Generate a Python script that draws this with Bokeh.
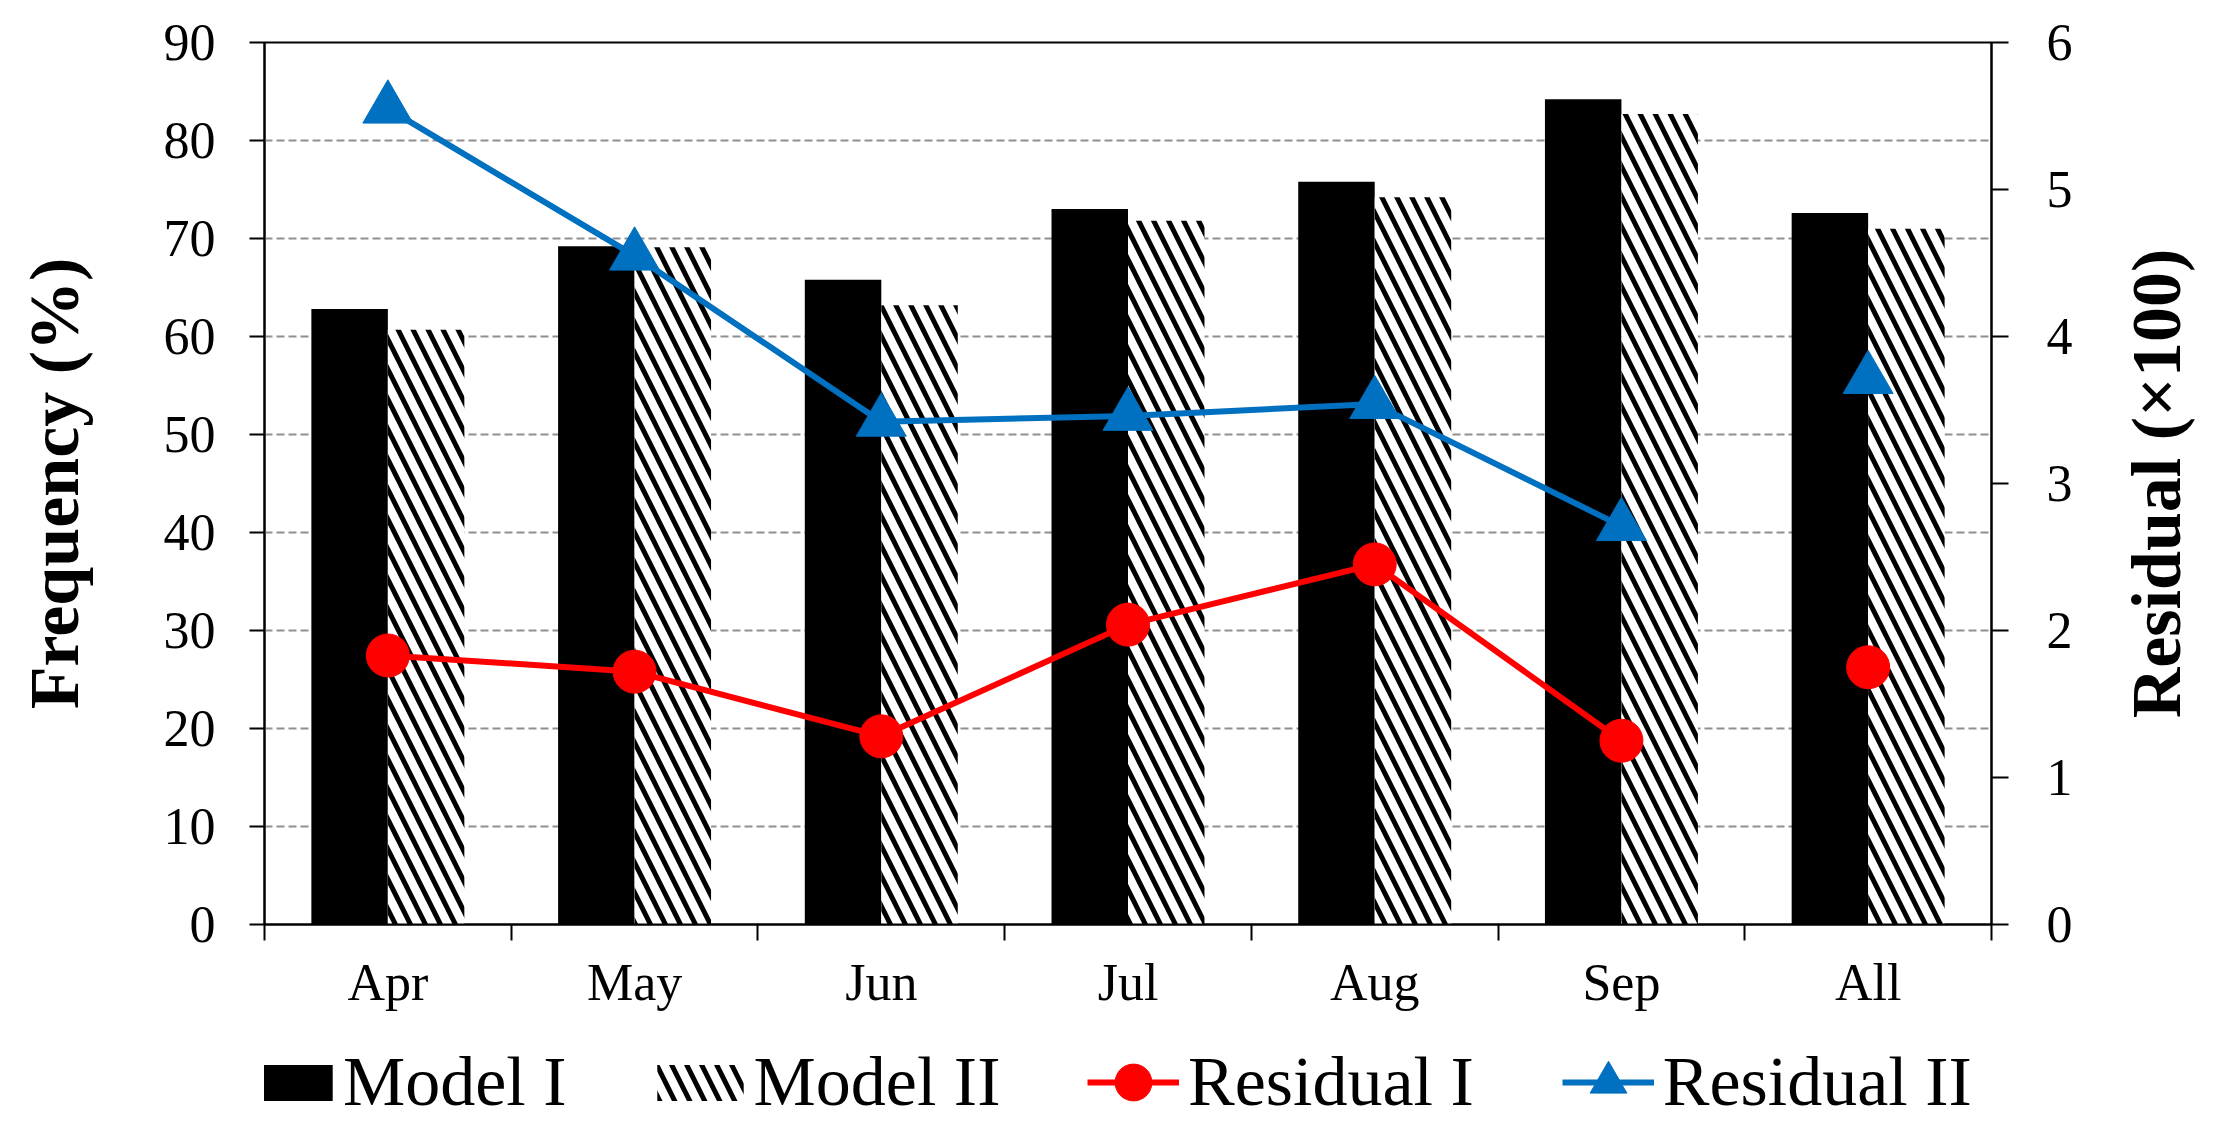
from bokeh.plotting import figure
from bokeh.layouts import column
from bokeh.models import (Range1d, LinearAxis, FixedTicker, Legend, LegendItem,
                          ColumnDataSource, Grid, Label)
from bokeh.transform import dodge
from bokeh.embed import file_html
from bokeh.resources import INLINE

# ---------------- data ----------------
categories = ["Apr", "May", "Jun", "Jul", "Aug", "Sep", "All"]
model_1 = [62.8, 69.2, 65.8, 73.0, 75.8, 84.2, 72.6]        # Frequency (%)
model_2 = [60.7, 69.1, 63.2, 71.8, 74.2, 82.7, 71.0]        # Frequency (%)
residual_1 = [1.83, 1.72, 1.28, 2.04, 2.45, 1.25, 1.75]     # Residual (x100)
residual_2 = [5.55, 4.55, 3.42, 3.46, 3.54, 2.71, 3.71]     # Residual (x100)
freq_ticks = [0, 10, 20, 30, 40, 50, 60, 70, 80, 90]
res_ticks = [0, 1, 2, 3, 4, 5, 6]
series_names = ["Model I", "Model II", "Residual I", "Residual II"]
left_title = "Frequency (%)"
right_title = "Residual (×100)"

FONT = "Liberation Serif"
RED = "#FF0000"
BLUE = "#0070C0"

n = len(categories)
xc = [float(i) + 0.5 for i in range(n)]
months = [c != "All" for c in categories]

src = ColumnDataSource(dict(x=xc, cat=categories, m1=model_1, m2=model_2,
                            r1=residual_1, r2=residual_2))
lsrc = ColumnDataSource(dict(
    x=[x for x, m in zip(xc, months) if m],
    r1=[v for v, m in zip(residual_1, months) if m],
    r2=[v for v, m in zip(residual_2, months) if m],
))

# ---------------- main chart ----------------
p = figure(width=2214, height=1030,
           x_range=Range1d(0, n), y_range=Range1d(freq_ticks[0], freq_ticks[-1]),
           output_backend="svg", toolbar_location=None,
           x_axis_type=None, y_axis_type=None,
           min_border_left=264, min_border_right=223,
           min_border_top=42, min_border_bottom=106)
p.extra_y_ranges = {"res": Range1d(res_ticks[0], res_ticks[-1])}
p.background_fill_color = "white"
p.border_fill_color = "white"
p.outline_line_color = "black"
p.outline_line_width = 2

grid = Grid(dimension=1, ticker=FixedTicker(ticks=freq_ticks),
            grid_line_color="#909090", grid_line_dash="8 4", grid_line_width=2)
p.add_layout(grid)

yl = LinearAxis(ticker=FixedTicker(ticks=freq_ticks), axis_label=left_title)
yr = LinearAxis(y_range_name="res", ticker=FixedTicker(ticks=res_ticks))
for ax in (yl, yr):
    ax.axis_line_width = 2
    ax.axis_line_color = "black"
    ax.major_tick_line_width = 2
    ax.major_tick_line_color = "black"
    ax.major_tick_in = 0
    ax.minor_tick_line_color = None
    ax.major_label_text_font = FONT
    ax.major_label_text_font_size = "52px"
    ax.major_label_text_color = "black"
    ax.axis_label_text_font = FONT
    ax.axis_label_text_font_size = "70px"
    ax.axis_label_text_font_style = "bold"
    ax.axis_label_text_color = "black"
yl.major_tick_out = 15
yl.major_label_standoff = 34
yl.axis_label_standoff = 68
yr.major_tick_out = 17
yr.major_label_standoff = 38
p.add_layout(yl, "left")
p.add_layout(yr, "right")

# right-hand title, reading bottom-to-top like the left one
rt = Label(x=7.669, y=45, x_units="data", y_units="data", text=right_title,
           angle=90, angle_units="deg", text_align="center", text_baseline="middle",
           text_font=FONT, text_font_size="70px", text_font_style="bold",
           text_color="black")
p.add_layout(rt, "right")

xa = LinearAxis(ticker=FixedTicker(ticks=xc, minor_ticks=[float(i) for i in range(n + 1)]),
                major_label_overrides={x: c for x, c in zip(xc, categories)})
xa.axis_line_width = 2
xa.axis_line_color = "black"
xa.major_tick_line_color = None
xa.major_tick_out = 0
xa.major_tick_in = 0
xa.minor_tick_line_color = "black"
xa.minor_tick_line_width = 2
xa.minor_tick_out = 16
xa.minor_tick_in = 0
xa.major_label_text_font = FONT
xa.major_label_text_font_size = "52px"
xa.major_label_text_color = "black"
xa.major_label_standoff = 13
p.add_layout(xa, "below")

bar_w = 0.31
bar_style_1 = dict(fill_color="black", line_color=None)
bar_style_2 = dict(fill_color="white", line_color=None, hatch_pattern="left_diagonal_line",
                   hatch_color="black", hatch_scale=30, hatch_weight=5)
line_style_1 = dict(line_color=RED, line_width=6)
line_style_2 = dict(line_color=BLUE, line_width=6)
mark_style_1 = dict(marker="circle", fill_color=RED, line_color=RED)
mark_style_2 = dict(marker="triangle", fill_color=BLUE, line_color=BLUE)

p.vbar(x=dodge("x", -0.155, range=p.x_range), top="m1", bottom=0, width=bar_w,
       source=src, **bar_style_1)
p.vbar(x=dodge("x", 0.155, range=p.x_range), top="m2", bottom=0, width=bar_w,
       source=src, **bar_style_2)
p.line("x", "r2", source=lsrc, y_range_name="res", **line_style_2)
p.scatter("x", "r2", source=src, y_range_name="res", size=50, **mark_style_2)
p.line("x", "r1", source=lsrc, y_range_name="res", **line_style_1)
p.scatter("x", "r1", source=src, y_range_name="res", size=43, **mark_style_1)

# ---------------- legend strip ----------------
lf = figure(width=2214, height=100, x_range=Range1d(0, 1), y_range=Range1d(0, 1),
            output_backend="svg", toolbar_location=None,
            x_axis_type=None, y_axis_type=None, min_border=0)
lf.outline_line_color = None
lf.background_fill_color = "white"
lf.border_fill_color = "white"
nan = float("nan")
ksrc = ColumnDataSource(dict(x=[nan], y=[nan]))   # legend keys only, nothing plotted
k1 = lf.vbar(x="x", top="y", width=0.1, source=ksrc, **bar_style_1)
k2 = lf.vbar(x="x", top="y", width=0.1, source=ksrc, **bar_style_2)
k3l = lf.line("x", "y", source=ksrc, **line_style_1)
k3m = lf.scatter("x", "y", source=ksrc, **mark_style_1)
k4l = lf.line("x", "y", source=ksrc, **line_style_2)
k4m = lf.scatter("x", "y", source=ksrc, **mark_style_2)

common = dict(orientation="horizontal", padding=0, margin=0, border_line_color=None,
              background_fill_alpha=0, label_text_font=FONT, label_text_font_size="70px",
              label_text_color="black")
leg1 = Legend(items=[LegendItem(label=series_names[0], renderers=[k1]),
                     LegendItem(label=series_names[1], renderers=[k2])],
              location=(-29, 8), glyph_width=108, glyph_height=45,
              label_standoff=0, spacing=79, **common)
leg2 = Legend(items=[LegendItem(label=series_names[2], renderers=[k3l, k3m]),
                     LegendItem(label=series_names[3], renderers=[k4l, k4m])],
              location=(823, 2), glyph_width=92, glyph_height=92,
              label_standoff=9, spacing=88, **common)
lf.add_layout(leg1)
lf.add_layout(leg2)

layout = column(p, lf, spacing=0)
open("out.html", "w").write(file_html(layout, INLINE))
